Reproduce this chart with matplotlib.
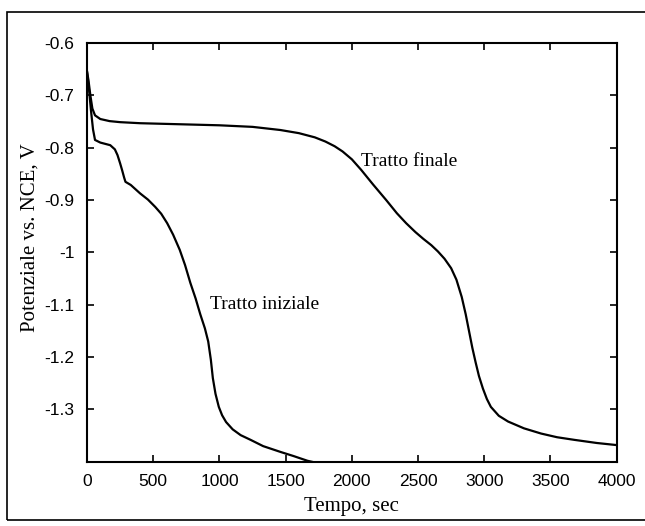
import matplotlib.pyplot as plt
from matplotlib.patches import Rectangle

# Tratto finale (time in s, potential in V vs NCE)
t_fin = [0, 10, 25, 40, 60, 100, 170, 250, 400, 700, 1000, 1250, 1460, 1600, 1720,
         1800, 1870, 1930, 2000, 2070, 2160, 2260, 2340, 2410, 2480, 2540, 2600,
         2650, 2700, 2750, 2790, 2830, 2860, 2885, 2910, 2935, 2960, 2990, 3020,
         3050, 3110, 3180, 3300, 3430, 3550, 3680, 3850, 4000]
v_fin = [-0.655, -0.67, -0.70, -0.725, -0.738, -0.745, -0.749, -0.751, -0.753,
         -0.755, -0.757, -0.760, -0.766, -0.772, -0.780, -0.788, -0.797, -0.807,
         -0.822, -0.842, -0.870, -0.900, -0.925, -0.944, -0.961, -0.974, -0.986,
         -0.998, -1.012, -1.030, -1.052, -1.085, -1.118, -1.150, -1.182, -1.210,
         -1.236, -1.260, -1.280, -1.295, -1.312, -1.323, -1.336, -1.346, -1.353,
         -1.358, -1.364, -1.368]

# Tratto iniziale
t_ini = [0, 15, 30, 45, 60, 100, 175, 210, 230, 250, 265, 280, 290, 330, 400, 460,
         515, 560, 605, 650, 700, 740, 780, 820, 855, 890, 915, 935, 950, 970,
         995, 1020, 1050, 1100, 1160, 1235, 1330, 1460, 1560, 1665, 1700]
v_ini = [-0.655, -0.69, -0.73, -0.765, -0.785, -0.790, -0.795, -0.803, -0.814,
         -0.83, -0.843, -0.857, -0.865, -0.871, -0.887, -0.899, -0.913, -0.926,
         -0.944, -0.966, -0.995, -1.024, -1.058, -1.088, -1.118, -1.145, -1.170,
         -1.205, -1.240, -1.270, -1.295, -1.311, -1.324, -1.338, -1.349, -1.358,
         -1.370, -1.381, -1.389, -1.398, -1.400]

fig = plt.figure(figsize=(6.45, 5.26), dpi=100)
ax = fig.add_axes([0.135, 0.122, 0.821, 0.796])

ax.plot(t_fin, v_fin, color='black', lw=1.6)
ax.plot(t_ini, v_ini, color='black', lw=1.6)

ax.set_xlim(0, 4000)
ax.set_ylim(-1.4, -0.6)
ax.set_xticks(range(0, 4001, 500))
ax.set_yticks([-1.3, -1.2, -1.1, -1.0, -0.9, -0.8, -0.7, -0.6])
ax.set_yticklabels(['-1.3', '-1.2', '-1.1', '-1', '-0.9', '-0.8', '-0.7', '-0.6'])
ax.tick_params(direction='in', top=True, right=True, length=5, width=1.2,
               labelsize=12.5, pad=9)
for lab in ax.get_xticklabels() + ax.get_yticklabels():
    lab.set_fontfamily('Liberation Sans')
for s in ax.spines.values():
    s.set_linewidth(1.5)

ax.set_xlabel('Tempo, sec', fontfamily='Liberation Serif', fontsize=15)
ax.set_ylabel('Potenziale vs. NCE, V', fontfamily='Liberation Serif', fontsize=15)
ax.xaxis.set_label_coords(0.5, -0.085)
ax.yaxis.set_label_coords(-0.09, 0.535)

ax.text(2068, -0.827, 'Tratto finale', fontfamily='Liberation Serif', fontsize=14,
        va='center', ha='left')
ax.text(932, -1.10, 'Tratto iniziale', fontfamily='Liberation Serif', fontsize=14,
        va='center', ha='left')

# outer frame around the figure
fig.patches.append(Rectangle((7 / 645, 6 / 526), 640 / 645, 508 / 526,
                             transform=fig.transFigure, fill=False,
                             edgecolor='black', lw=1.2))

fig.savefig('out.png', dpi=100)
